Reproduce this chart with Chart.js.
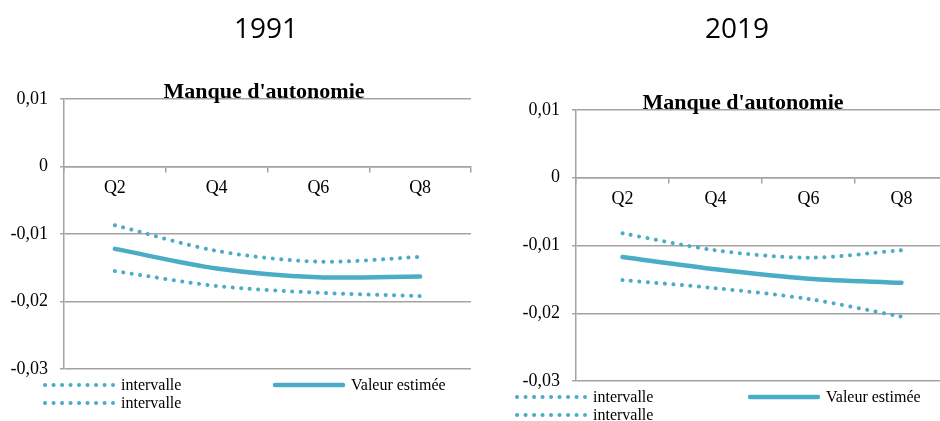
<!DOCTYPE html>
<html>
<head>
<meta charset="utf-8">
<script src="https://cdn.jsdelivr.net/npm/chart.js@4.4.1/dist/chart.umd.min.js"></script>
<style>
  html, body { margin: 0; padding: 0; background: #fff; width: 940px; height: 421px; overflow: hidden; position: relative; }
  canvas { position: absolute; top: 0; }
  #chart1991 { left: 0; }
  #chart2019 { left: 470px; }
</style>
</head>
<body>
<canvas id="chart1991" width="480" height="421"></canvas>
<canvas id="chart2019" width="490" height="421"></canvas>
<script>
const categories = ['Q2', 'Q4', 'Q6', 'Q8'];

const est1991 = [-0.0122, -0.0151, -0.0164, -0.0163];
const upper1991 = [-0.0087, -0.0125, -0.0141, -0.0134];
const lower1991 = [-0.0155, -0.0177, -0.0187, -0.0192];

const est2019 = [-0.0117, -0.0135, -0.0149, -0.0155];
const upper2019 = [-0.0082, -0.0107, -0.0118, -0.0107];
const lower2019 = [-0.0151, -0.0163, -0.0179, -0.0205];

const yMin = -0.03;
const yMax = 0.01;
const yStep = 0.01;

const lineColor = '#4BACC6';
const gridColor = '#a3a3a3';
const serif = '"Liberation Serif", "Times New Roman", serif';

function fmtTick(v) {
  if (Math.abs(v) < 1e-9) return '0';
  return v.toFixed(2).replace('.', ',');
}

// year heading, chart title and the two-column legend, placed like the Excel original
const panelText = {
  id: 'panelText',
  afterDraw(chart, args, opts) {
    const ctx = chart.ctx;
    ctx.save();
    ctx.fillStyle = '#000';
    ctx.textAlign = 'center';
    ctx.textBaseline = 'alphabetic';
    ctx.font = '28px "Open Sans"';
    ctx.fillText(opts.year, opts.yearX, opts.yearY);
    ctx.font = 'bold 22px ' + serif;
    ctx.fillText(opts.title, opts.titleX, opts.titleY);

    ctx.textAlign = 'left';
    ctx.textBaseline = 'middle';
    ctx.font = '16px ' + serif;
    chart.data.datasets.forEach((ds, i) => {
      const p = opts.legend[i];
      ctx.save();
      ctx.strokeStyle = ds.borderColor;
      ctx.lineWidth = ds.borderWidth;
      ctx.lineCap = ds.borderCapStyle || 'butt';
      ctx.setLineDash(ds.borderDash || []);
      ctx.beginPath();
      ctx.moveTo(p.x, p.y);
      ctx.lineTo(p.x + 68, p.y);
      ctx.stroke();
      ctx.restore();
      ctx.fillText(ds.label, p.x + 76, p.y + 1);
    });
    ctx.restore();
  }
};

function dotted(label, data) {
  return {
    label: label,
    data: data,
    borderColor: lineColor,
    borderWidth: 4,
    borderDash: [0.1, 8.4],
    borderCapStyle: 'round',
    pointRadius: 0,
    tension: 0.3
  };
}

function makeChart(id, est, upper, lower, yWidth, padding, text) {
  return new Chart(document.getElementById(id), {
    type: 'line',
    data: {
      labels: categories,
      datasets: [
        dotted('intervalle', upper),
        {
          label: 'Valeur estimée',
          data: est,
          borderColor: lineColor,
          borderWidth: 4.5,
          borderCapStyle: 'round',
          pointRadius: 0,
          tension: 0.3
        },
        dotted('intervalle', lower)
      ]
    },
    options: {
      responsive: false,
      animation: false,
      layout: { padding: padding },
      plugins: {
        legend: { display: false },
        tooltip: { enabled: false },
        panelText: text
      },
      scales: {
        x: {
          position: { y: 0 },
          offset: true,
          grid: { offset: true, drawOnChartArea: false, drawTicks: true, tickLength: 5, color: gridColor, lineWidth: 1.5 },
          border: { display: true, color: gridColor, width: 1.5 },
          ticks: { font: { family: serif, size: 18 }, color: '#000', padding: 6, maxRotation: 0 }
        },
        y: {
          min: yMin,
          max: yMax,
          ticks: { stepSize: yStep, callback: fmtTick, font: { family: serif, size: 18 }, color: '#000', padding: 12 },
          grid: { color: gridColor, lineWidth: 1.5, tickLength: 4 },
          border: { color: gridColor, width: 1.5 },
          afterFit(s) { s.width = yWidth; }
        }
      }
    },
    plugins: [panelText]
  });
}

makeChart('chart1991', est1991, upper1991, lower1991, 64,
  { left: 0, top: 99, right: 9, bottom: 52 },
  {
    year: '1991', yearX: 266, yearY: 38,
    title: "Manque d'autonomie", titleX: 264, titleY: 98,
    legend: [{ x: 45, y: 385 }, { x: 275, y: 385 }, { x: 45, y: 403 }]
  });

makeChart('chart2019', est2019, upper2019, lower2019, 106,
  { left: 0, top: 110, right: 12, bottom: 40 },
  {
    year: '2019', yearX: 267, yearY: 38,
    title: "Manque d'autonomie", titleX: 273, titleY: 109,
    legend: [{ x: 47, y: 397 }, { x: 280, y: 397 }, { x: 47, y: 415 }]
  });
</script>
</body>
</html>
